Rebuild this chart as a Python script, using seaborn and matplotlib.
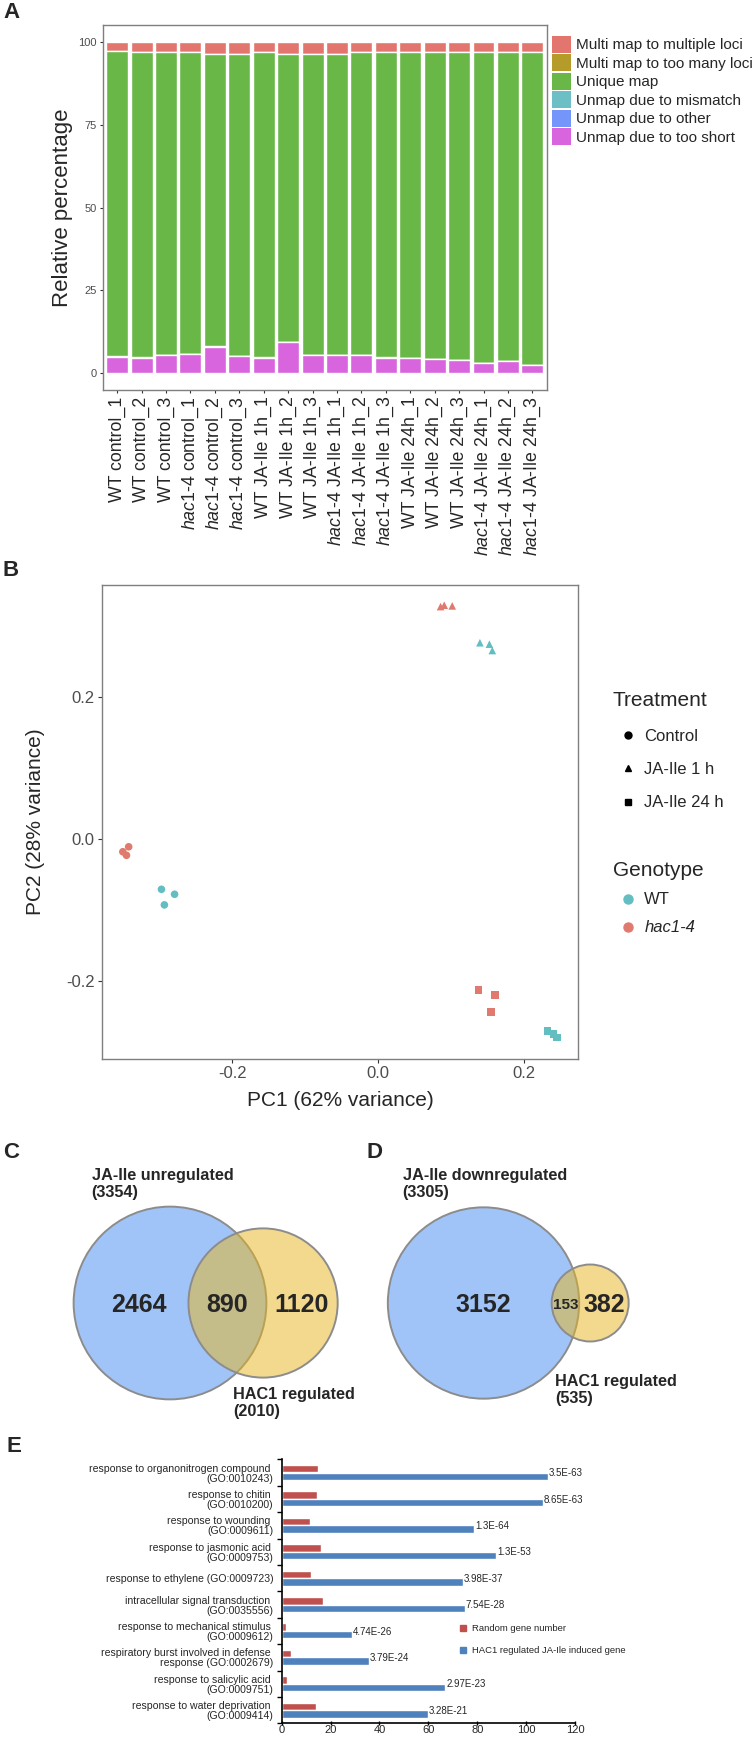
import numpy as np
import pandas as pd
import matplotlib
matplotlib.use("Agg")
import matplotlib.pyplot as plt
import seaborn as sns
from matplotlib.patches import Patch, Circle
from matplotlib.lines import Line2D

W, H = 752, 1737

# ---------------- panel A: mapping summary (percent, bottom-up stack) ----------------
samples = ["WT control_1", "WT control_2", "WT control_3",
           "hac1-4 control_1", "hac1-4 control_2", "hac1-4 control_3",
           "WT JA-Ile 1h_1", "WT JA-Ile 1h_2", "WT JA-Ile 1h_3",
           "hac1-4 JA-Ile 1h_1", "hac1-4 JA-Ile 1h_2", "hac1-4 JA-Ile 1h_3",
           "WT JA-Ile 24h_1", "WT JA-Ile 24h_2", "WT JA-Ile 24h_3",
           "hac1-4 JA-Ile 24h_1", "hac1-4 JA-Ile 24h_2", "hac1-4 JA-Ile 24h_3"]
too_short = [5.0, 4.7, 5.4, 5.7, 8.0, 5.2, 4.7, 9.4, 5.4, 5.4, 5.4, 4.7, 4.5, 4.2, 3.9, 3.0, 3.7, 2.5]
other = [0.05, 0.05, 0.05, 0.05, 0.05, 0.05, 0.05, 0.05, 0.05, 0.05, 0.05, 0.05, 0.05, 0.05, 0.05, 0.05, 0.05, 0.05]
mismatch = [0.1, 0.1, 0.1, 0.1, 0.1, 0.1, 0.1, 0.1, 0.1, 0.1, 0.1, 0.1, 0.1, 0.1, 0.1, 0.1, 0.1, 0.1]
unique = [92.0, 91.9, 91.2, 90.9, 88.1, 90.9, 91.9, 86.7, 90.7, 90.7, 91.2, 91.9, 92.1, 92.5, 92.8, 93.7, 92.9, 94.1]
too_many = [0.05, 0.05, 0.05, 0.05, 0.05, 0.05, 0.05, 0.05, 0.05, 0.05, 0.05, 0.05, 0.05, 0.05, 0.05, 0.05, 0.05, 0.05]
multiple = [2.8, 3.2, 3.2, 3.2, 3.7, 3.7, 3.2, 3.7, 3.7, 3.7, 3.2, 3.2, 3.2, 3.1, 3.1, 3.1, 3.2, 3.2]
map_names = ["Unmap due to too short", "Unmap due to other", "Unmap due to mismatch",
             "Unique map", "Multi map to too many loci", "Multi map to multiple loci"]
map_colors = ["#D865DD", "#7496FB", "#6CBFC4", "#69B847", "#B49B2A", "#E2766E"]

# ---------------- panel B: PCA ----------------
pc1 = [-0.350, -0.342, -0.345, -0.297, -0.279, -0.293,
       0.086, 0.091, 0.102, 0.140, 0.153, 0.157,
       0.138, 0.161, 0.155, 0.233, 0.241, 0.246]
pc2 = [-0.018, -0.011, -0.023, -0.071, -0.078, -0.093,
       0.328, 0.330, 0.329, 0.277, 0.275, 0.266,
       -0.213, -0.220, -0.244, -0.271, -0.275, -0.280]
genotype = ["hac1-4"] * 3 + ["WT"] * 3 + ["hac1-4"] * 3 + ["WT"] * 3 + ["hac1-4"] * 3 + ["WT"] * 3
treatment = ["Control"] * 6 + ["JA-Ile 1 h"] * 6 + ["JA-Ile 24 h"] * 6
geno_colors = {"WT": "#63BEC2", "hac1-4": "#E07A6F"}
treat_markers = {"Control": "o", "JA-Ile 1 h": "^", "JA-Ile 24 h": "s"}

# ---------------- panels C, D: Venn counts (set1, set2, overlap) ----------------
venn_c = (3354, 2010, 890)
venn_d = (3305, 535, 153)

# ---------------- panel E: GO enrichment ----------------
go_terms = ["response to organonitrogen compound \n(GO:0010243)",
            "response to chitin \n(GO:0010200)",
            "response to wounding \n(GO:0009611)",
            "response to jasmonic acid \n(GO:0009753)",
            "response to ethylene (GO:0009723)",
            "intracellular signal transduction \n(GO:0035556)",
            "response to mechanical stimulus \n(GO:0009612)",
            "respiratory burst involved in defense \nresponse (GO:0002679)",
            "response to salicylic acid \n(GO:0009751)",
            "response to water deprivation \n(GO:0009414)"]
random_genes = [14.7, 14.3, 11.4, 16.0, 12.0, 16.8, 1.8, 3.8, 2.1, 14.2]
hac1_genes = [108.8, 106.8, 78.8, 87.8, 74.1, 75.0, 28.9, 35.7, 67.0, 60.0]
p_values = ["3.5E-63", "8.65E-63", "1.3E-64", "1.3E-53", "3.98E-37",
            "7.54E-28", "4.74E-26", "3.79E-24", "2.97E-23", "3.28E-21"]


def rect(l, t, r, b):
    return [l / W, 1 - b / H, (r - l) / W, (b - t) / H]


sns.set_style("white")
plt.rcParams["font.family"] = ["Liberation Sans", "DejaVu Sans"]
plt.rcParams["mathtext.fontset"] = "custom"
plt.rcParams["mathtext.rm"] = "Liberation Sans"
plt.rcParams["mathtext.it"] = "Liberation Sans:italic"

fig = plt.figure(figsize=(W / 100, H / 100), dpi=100)
frame_col = "#7F7F7F"
tick_col = "#4D4D4D"

# ======== A ========
axA = fig.add_axes(rect(103, 25, 547, 390))
stack = pd.DataFrame(dict(zip(map_names, [too_short, other, mismatch, unique, too_many, multiple])),
                     index=samples)
cum = stack.cumsum(axis=1)
for name, color in reversed(list(zip(map_names, map_colors))):
    sns.barplot(x=samples, y=cum[name].values, color=color, width=0.9,
                saturation=1, errorbar=None, ax=axA)
axA.set_xlim(-0.58, 17.6)
axA.set_ylim(-5, 105)
axA.set_yticks([0, 25, 50, 75, 100])
axA.set_yticklabels(["0", "25", "50", "75", "100"], fontsize=8, color=tick_col)
xlabels = [s.replace("hac1-4", r"$\mathit{hac1}$-$\mathit{4}$") for s in samples]
axA.set_xticks(range(len(samples)))
axA.set_xticklabels(xlabels, rotation=90, ha="center", va="top", fontsize=12.8)
axA.tick_params(axis="both", length=2.5, width=0.8, color="#333333", pad=2, bottom=True, left=True)
axA.set_xlabel("")
axA.set_ylabel("Relative percentage", fontsize=16)
axA.yaxis.set_label_coords(-0.091, 0.5)
axA.yaxis.label.set_va("center")
for sp in axA.spines.values():
    sp.set_color(frame_col)
    sp.set_linewidth(1.0)
handlesA = [Patch(facecolor=c, edgecolor="none") for c in map_colors[::-1]]
axA.legend(handlesA, map_names[::-1], loc="upper left",
           bbox_to_anchor=(551.5 / W, 1 - 36 / H), bbox_transform=fig.transFigure,
           frameon=False, fontsize=11, handlelength=1.3, handleheight=1.3,
           handletextpad=0.3, labelspacing=0.12, borderpad=0, borderaxespad=0)

# ======== B ========
axB = fig.add_axes(rect(101.7, 585, 578.3, 1059))
dfB = pd.DataFrame({"PC1": pc1, "PC2": pc2, "Genotype": genotype, "Treatment": treatment})
sns.scatterplot(data=dfB, x="PC1", y="PC2", hue="Genotype", style="Treatment",
                palette=geno_colors, markers=treat_markers, s=30, linewidth=0,
                legend=False, ax=axB)
axB.set_xlim(-0.379, 0.275)
axB.set_ylim(-0.3105, 0.3585)
axB.set_xticks([-0.2, 0.0, 0.2])
axB.set_xticklabels(["-0.2", "0.0", "0.2"])
axB.set_yticks([-0.2, 0.0, 0.2])
axB.set_yticklabels(["-0.2", "0.0", "0.2"])
axB.tick_params(axis="both", labelsize=12, labelcolor=tick_col, length=3, width=0.8,
                color="#333333", pad=2, bottom=True, left=True)
axB.set_xlabel("PC1 (62% variance)", fontsize=15)
axB.set_ylabel("PC2 (28% variance)", fontsize=15)
axB.yaxis.set_label_coords(-0.138, 0.5)
axB.yaxis.label.set_va("center")
axB.xaxis.set_label_coords(0.5, -0.0865)
axB.xaxis.label.set_va("center")
for sp in axB.spines.values():
    sp.set_color(frame_col)
    sp.set_linewidth(1.0)

treat_handles = [Line2D([], [], marker=m, color="black", linestyle="", markersize=5)
                 for m in treat_markers.values()]
legT = axB.legend(treat_handles, list(treat_markers.keys()), title="Treatment",
                  loc="upper left", bbox_to_anchor=(612.7 / W, 1 - 691.5 / H),
                  bbox_transform=fig.transFigure, frameon=False, fontsize=12,
                  title_fontsize=15, alignment="left", handlelength=1.85,
                  handletextpad=0.05, labelspacing=1.1, borderpad=0, borderaxespad=0)
axB.add_artist(legT)
geno_handles = [Line2D([], [], marker="o", color=geno_colors[g], linestyle="", markersize=6.5)
                for g in ["WT", "hac1-4"]]
legG = axB.legend(geno_handles, ["WT", "hac1-4"], title="Genotype",
                  loc="upper left", bbox_to_anchor=(612.7 / W, 1 - 860.5 / H),
                  bbox_transform=fig.transFigure, frameon=False, fontsize=12,
                  title_fontsize=15, alignment="left", handlelength=1.85,
                  handletextpad=0.05, labelspacing=0.78, borderpad=0, borderaxespad=0)
legG.get_texts()[1].set_fontstyle("italic")

# ======== E ========
axE = fig.add_axes(rect(281.7, 1459.3, 575, 1723.3))
dfE = pd.DataFrame({
    "term": go_terms + go_terms,
    "value": random_genes + hac1_genes,
    "series": ["Random gene number"] * len(go_terms)
              + ["HAC1 regulated JA-Ile induced gene"] * len(go_terms),
})
e_colors = ["#C0504D", "#4F81BD"]
sns.barplot(data=dfE, y="term", x="value", hue="series", orient="h",
            palette=e_colors, width=0.57, saturation=1, errorbar=None,
            legend=False, ax=axE)
axE.set_xlim(0, 120)
axE.set_ylim(len(go_terms) - 0.5, -0.5)
axE.set_xticks(range(0, 121, 20))
axE.tick_params(axis="x", labelsize=8, length=3, width=1, color="black", pad=-0.5,
                direction="inout", bottom=True)
axE.set_yticks(range(len(go_terms)))
axE.set_yticklabels(go_terms, fontsize=7.6, color="#262626", multialignment="right",
                    linespacing=1.0)
axE.set_yticks(np.arange(-0.5, len(go_terms), 1), minor=True)
axE.tick_params(axis="y", which="major", length=0, pad=6)
axE.tick_params(axis="y", which="minor", length=3.5, width=1, color="black", left=True)
axE.set_xlabel("")
axE.set_ylabel("")
for side in ["top", "right"]:
    axE.spines[side].set_visible(False)
for side in ["left", "bottom"]:
    axE.spines[side].set_color("black")
    axE.spines[side].set_linewidth(1.2)
for i, (v, p) in enumerate(zip(hac1_genes, p_values)):
    axE.text(v + 0.3, i + 0.03, p, va="center", ha="left", fontsize=7, color="#262626")
handlesE = [Line2D([], [], marker="s", color=c, linestyle="", markersize=4) for c in e_colors]
axE.legend(handlesE, ["Random gene number", "HAC1 regulated JA-Ile induced gene"],
           loc="upper left", bbox_to_anchor=(458 / W, 1 - 1624 / H),
           bbox_transform=fig.transFigure, frameon=False, fontsize=6.8,
           handlelength=1.1, handletextpad=0.35, labelspacing=1.38, borderpad=0, borderaxespad=0)

# ======== overlay: Venn diagrams and panel letters (pixel coordinates) ========
ov = fig.add_axes([0, 0, 1, 1])
ov.set_xlim(0, W)
ov.set_ylim(H, 0)
ov.axis("off")
ov.patch.set_alpha(0)

PX_PER_GENE = 8.7


def lens_area(d, r1, r2):
    a1 = np.arccos((d * d + r1 * r1 - r2 * r2) / (2 * d * r1))
    a2 = np.arccos((d * d + r2 * r2 - r1 * r1) / (2 * d * r2))
    k = np.sqrt((-d + r1 + r2) * (d + r1 - r2) * (d - r1 + r2) * (d + r1 + r2))
    return r1 * r1 * a1 + r2 * r2 * a2 - 0.5 * k


def venn(counts, cx, cy):
    n1, n2, n12 = counts
    r1 = np.sqrt(n1 * PX_PER_GENE / np.pi)
    r2 = np.sqrt(n2 * PX_PER_GENE / np.pi)
    target = n12 * PX_PER_GENE
    lo, hi = abs(r1 - r2) + 1e-6, r1 + r2 - 1e-6
    for _ in range(60):
        mid = (lo + hi) / 2
        if lens_area(mid, r1, r2) > target:
            lo = mid
        else:
            hi = mid
    d = (lo + hi) / 2
    ov.add_patch(Circle((cx, cy), r1, facecolor="#A0C4F8", edgecolor="#8C8C8C", lw=1.4))
    ov.add_patch(Circle((cx + d, cy), r2, facecolor="#E8B51C", alpha=0.5, edgecolor="none"))
    ov.add_patch(Circle((cx + d, cy), r2, facecolor="none", edgecolor="#8C8C8C", lw=1.4))
    return r1, r2, d


r1, r2, d = venn(venn_c, 170, 1303)
big = dict(fontsize=18, fontweight="bold", ha="center", va="center")
ov.text(138.5, 1305, f"{venn_c[0] - venn_c[2]}", **big)
ov.text(((170 + d - r2) + (170 + r1)) / 2, 1305, f"{venn_c[2]}", **big)
ov.text(((170 + r1) + (170 + d + r2)) / 2, 1305, f"{venn_c[1] - venn_c[2]}", **big)

r1, r2, d = venn(venn_d, 483.5, 1303)
ov.text(483, 1305, f"{venn_d[0] - venn_d[2]}", **big)
ov.text(((483.5 + d - r2) + (483.5 + r1)) / 2, 1305, f"{venn_d[2]}",
        fontsize=11, fontweight="bold", ha="center", va="center")
ov.text(((483.5 + r1) + (483.5 + d + r2)) / 2, 1305, f"{venn_d[1] - venn_d[2]}", **big)

lab = dict(fontsize=11.7, fontweight="bold", ha="left", va="center", linespacing=1.2)
ov.text(91.7, 1184, f"JA-Ile unregulated\n({venn_c[0]})", **lab)
ov.text(233.3, 1403, f"HAC1 regulated\n({venn_c[1]})", **lab)
ov.text(402.7, 1184, f"JA-Ile downregulated\n({venn_d[0]})", **lab)
ov.text(555, 1390, f"HAC1 regulated\n({venn_d[1]})", **lab)

letter = dict(fontsize=16, fontweight="bold", ha="left", va="center")
ov.text(3, 13, "A", **letter)
ov.text(3, 570, "B", **letter)
ov.text(3, 1153, "C", **letter)
ov.text(367, 1153, "D", **letter)
ov.text(6, 1447, "E", **letter)

fig.savefig("out.png", dpi=100)
